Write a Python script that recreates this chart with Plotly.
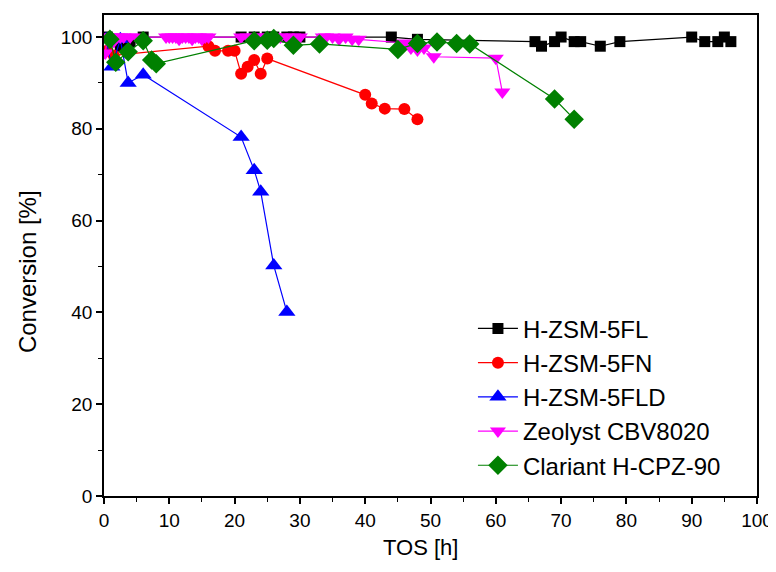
import plotly.graph_objects as go

# H-ZSM-5FL
fl_x = [0.5, 1.5, 2.5, 4, 6, 21, 23, 25, 26, 28, 29, 30, 44, 48, 66, 67, 69, 70, 72, 73, 76, 79, 90, 92, 94, 95, 96]
fl_y = [100, 99, 98, 99, 100, 100, 100, 100, 100, 100, 100, 100, 100, 99.5, 99, 98, 99, 100, 99, 99, 98, 99, 100, 99, 99, 100, 99]
# H-ZSM-5FN
fn_x = [0.5, 1.5, 16, 17, 19, 20, 21, 22, 23, 24, 25, 40, 41, 43, 46, 48]
fn_y = [97, 96, 98, 97, 97, 97, 92, 93.5, 95, 92, 95.3, 87.4, 85.5, 84.4, 84.3, 82.1]
# H-ZSM-5FLD
fld_x = [0.3, 1.2, 2.5, 3.7, 6, 21, 23, 24, 26, 28]
fld_y = [99.5, 93.5, 99.5, 90, 91.8, 78.2, 71, 66.3, 50.2, 40.1]
# Zeolyst CBV8020
zeo_x = [0.2, 0.5, 1, 1.5, 2, 2.5, 3, 4, 5, 9.5, 10, 10.5, 11, 11.5, 12, 12.5, 13, 13.5, 14, 14.5, 15, 15.5, 16,
         21, 22, 23, 24, 25, 26, 27, 28, 29, 30, 33.5, 34, 35, 36, 37, 38, 39, 46, 47, 48, 49, 50.5, 60, 61]
zeo_y = [96.5, 100, 100, 99, 100, 100, 100, 100, 100, 100, 100, 100, 100, 99.5, 100, 100, 100, 99.5, 100, 100, 99.5, 100, 100,
         100, 100, 100, 100, 100, 100, 100, 100, 100, 100, 100, 100, 100, 99.5, 100, 99.5, 99.5, 98.7, 97.6, 97.2, 97.6, 95.7, 95.4, 88]
# Clariant H-CPZ-90
cla_x = [0.9, 1.8, 3.7, 6, 7.3, 8, 23, 25, 26, 29, 33, 45, 48, 51, 54, 56, 69, 72]
cla_y = [99.5, 94.5, 96.8, 99.2, 95, 94.2, 99.2, 99.3, 99.7, 98.2, 98.5, 97.3, 98.6, 98.9, 98.6, 98.5, 86.5, 82.1]

x_title = "TOS [h]"
y_title = "Conversion [%]"

series = [
    ("H-ZSM-5FL", fl_x, fl_y, "#000000", "square", 11),
    ("H-ZSM-5FN", fn_x, fn_y, "#ff0000", "circle", 12),
    ("H-ZSM-5FLD", fld_x, fld_y, "#0000ff", "triangle-up", 15),
    ("Zeolyst CBV8020", zeo_x, zeo_y, "#ff00ff", "triangle-down", 14),
    ("Clariant H-CPZ-90", cla_x, cla_y, "#008000", "diamond", 15),
]

fig = go.Figure()
for name, xs, ys, col, sym, sz in series:
    fig.add_trace(go.Scatter(
        x=xs, y=ys, name=name, mode="lines+markers",
        line=dict(color=col, width=1.2),
        marker=dict(color=col, symbol=sym, size=sz, line=dict(width=0)),
    ))

axis_common = dict(
    showline=True, linecolor="black", linewidth=1.5, mirror=True,
    ticks="outside", ticklen=6, tickwidth=1.5, tickcolor="black",
    showgrid=False, zeroline=False, automargin=False,
    tickfont=dict(family="Liberation Sans, Arial", size=19, color="black"),
)

fig.update_xaxes(
    range=[0, 100], tick0=0, dtick=10,
    minor=dict(dtick=5, ticks="outside", ticklen=4, tickcolor="black", tickwidth=1.2),
    **axis_common,
)
fig.update_yaxes(
    range=[0, 104.8], tick0=0, dtick=20,
    minor=dict(dtick=10, ticks="outside", ticklen=4, tickcolor="black", tickwidth=1.2),
    **axis_common,
)

fig.add_annotation(
    text=x_title, xref="paper", yref="paper", x=0.484, y=-0.108,
    xanchor="center", yanchor="middle", showarrow=False,
    font=dict(family="Liberation Sans, Arial", size=22, color="black"),
)
fig.add_annotation(
    text=y_title, xref="paper", yref="paper", x=-0.116, y=0.466,
    xanchor="center", yanchor="middle", showarrow=False, textangle=-90,
    font=dict(family="Liberation Sans, Arial", size=24, color="black"),
)

fig.update_layout(
    width=768, height=564,
    margin=dict(l=96, r=19, t=7, b=76),
    plot_bgcolor="white", paper_bgcolor="white",
    legend=dict(
        x=0.565, y=0.018, xanchor="left", yanchor="bottom",
        bgcolor="rgba(255,255,255,0)", borderwidth=0,
        font=dict(family="Liberation Sans, Arial", size=24, color="black"),
        tracegroupgap=0, itemwidth=40,
    ),
)

fig.write_html("out.html")
